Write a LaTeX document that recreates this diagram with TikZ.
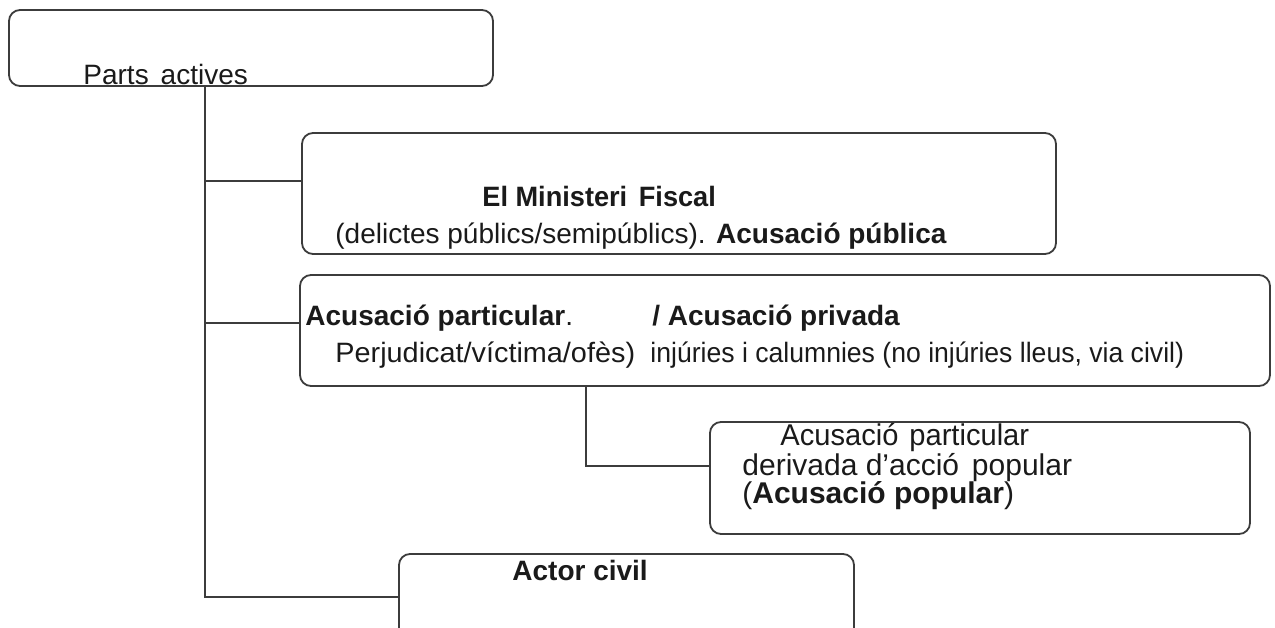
\documentclass[tikz,border=0pt]{standalone}
\usepackage{fontspec}
\usepackage{graphicx}
\setmainfont{Liberation Sans}
\definecolor{linegray}{HTML}{3C3C3C}
\definecolor{textblack}{HTML}{1A1A1A}
\tikzset{
  pbox/.style={draw=linegray,line width=0.9pt,rounded corners=5.5pt,inner sep=0pt,outer sep=0pt},
  pline/.style={draw=linegray,line width=0.9pt},
  ptext/.style={anchor=base west,inner sep=0pt,text=textblack,font=\fontsize{14}{16}\selectfont},
  pbold/.style={ptext,font=\fontsize{14}{16}\selectfont\bfseries},
  plarge/.style={ptext,font=\fontsize{15}{17}\selectfont}
}
\begin{document}
\begin{tikzpicture}[x=0.5pt,y=-0.5pt]
\useasboundingbox (0,0) rectangle (1275,627);
\clip (0,0) rectangle (1275,627);

% boxes
\node[pbox,minimum width=242pt,minimum height=38pt] (actives) at (251,48) {};
\node[pbox,minimum width=377pt,minimum height=60.5pt] (fiscal) at (679,193.5) {};
\node[pbox,minimum width=485pt,minimum height=55.5pt] (particular) at (785,330.5) {};
\node[pbox,minimum width=270pt,minimum height=56pt] (popular) at (980,478) {};
\node[pbox,minimum width=227.5pt,minimum height=50pt] (civil) at (626.5,604) {};

% texts
\node[ptext] (activestxt) at (83,84) {Parts\hspace{0.15em} actives};
\node[pbold] (fiscaltxt) at (482,206) {\scalebox{0.97}[1]{El Ministeri\hspace{0.15em} Fiscal}};
\node[ptext] (fiscalsub) at (335,243) {(delictes públics/semipúblics). \textbf{Acusació pública}};
\node[ptext] (particulartxt) at (305,325) {\textbf{Acusació particular}.};
\node[pbold] (privadatxt) at (652,325) {/ Acusació privada};
\node[ptext] (particularsub) at (335,362) {\scalebox{1.03}[1]{Perjudicat/víctima/ofès)}};
\node[ptext] (privadasub) at (650,362) {\scalebox{0.95}[1]{injúries i calumnies (no injúries lleus, via civil)}};
\node[plarge] (populartxt) at (780,445) {\scalebox{0.97}[1]{Acusació\hspace{0.1em} particular}};
\node[plarge] (popularsub) at (742,475) {derivada d’acció\hspace{0.15em} popular};
\node[plarge] (popularname) at (742,503) {(\textbf{Acusació popular})};
\node[pbold] (civiltxt) at (512,580) {Actor civil};

% connectors
\coordinate (jfiscal) at (205,181);
\coordinate (jparticular) at (205,323);
\coordinate (jcivil) at (205,597);
\coordinate (jpopular) at (586,466);
\draw[pline] (jfiscal |- actives.south) -- (jcivil) -- (civil.west |- jcivil);
\draw[pline] (jfiscal) -- (fiscal.west |- jfiscal);
\draw[pline] (jparticular) -- (particular.west |- jparticular);
\draw[pline] (jpopular |- particular.south) -- (jpopular) -- (popular.west |- jpopular);
\end{tikzpicture}
\end{document}
